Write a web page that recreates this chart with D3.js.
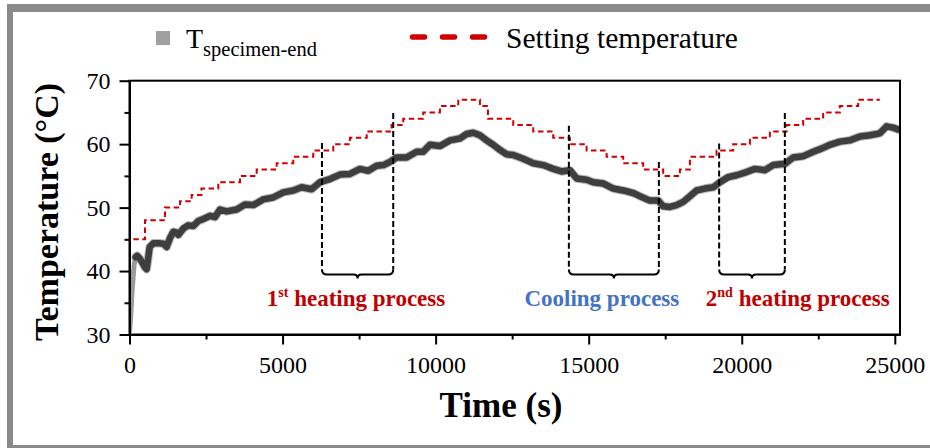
<!DOCTYPE html>
<html>
<head>
<meta charset="utf-8">
<script src="https://cdn.jsdelivr.net/npm/d3@7"></script>
<style>
  html, body { margin: 0; padding: 0; background: #fff; }
  svg { display: block; }
  svg text { font-family: "Liberation Serif", "Times New Roman", "DejaVu Serif", serif; }
</style>
</head>
<body>
<svg id="chart" width="930" height="448"></svg>
<script>
// Specimen-end temperature record (s, °C)
const specimenTime = [0, 40, 80, 110, 150, 200, 250, 330, 420, 500, 560, 610, 660, 780, 950, 1105, 1214, 1323, 1432, 1520, 1595, 1758, 1921, 2085, 2248, 2411, 2629, 2792, 2956, 3174, 3500, 3772, 4044, 4371, 4697, 5024, 5351, 5623, 5950, 6222, 6548, 6875, 7202, 7528, 7800, 8073, 8300, 8508, 8725, 9052, 9379, 9596, 9814, 10141, 10468, 10794, 11012, 11229, 11447, 11665, 11882, 12100, 12318, 12536, 12862, 13189, 13516, 13842, 14114, 14387, 14605, 14932, 15150, 15476, 15803, 16129, 16456, 16673, 17000, 17272, 17435, 17653, 17870, 18088, 18306, 18524, 18796, 19068, 19286, 19558, 19831, 20157, 20429, 20756, 21028, 21409, 21681, 22008, 22334, 22606, 22879, 23205, 23532, 23858, 24185, 24511, 24729, 24946, 25110, 25250];
const specimenTemp = [30.3, 33.0, 36.5, 38.5, 41.0, 42.2, 42.4, 42.0, 41.3, 40.6, 40.3, 42.0, 43.8, 44.4, 44.4, 44.3, 43.8, 45.2, 46.2, 46.1, 45.7, 46.7, 47.2, 47.1, 47.9, 48.2, 48.7, 48.5, 49.7, 49.4, 49.7, 50.5, 50.4, 51.3, 51.6, 52.4, 52.7, 53.2, 52.9, 54.0, 54.5, 55.2, 55.3, 56.1, 55.8, 56.6, 56.7, 57.2, 57.9, 57.9, 58.8, 58.8, 59.9, 59.7, 60.6, 60.9, 61.6, 61.8, 61.4, 60.6, 59.9, 59.1, 58.4, 58.3, 57.7, 57.0, 56.7, 56.1, 55.7, 55.9, 54.6, 54.4, 54.0, 53.8, 53.0, 52.7, 52.3, 51.8, 51.1, 51.1, 50.2, 50.1, 50.4, 50.9, 51.8, 52.7, 53.0, 53.2, 54.0, 54.8, 55.1, 55.6, 56.1, 55.9, 56.7, 56.9, 57.9, 58.1, 58.8, 59.3, 59.9, 60.4, 60.6, 61.2, 61.4, 61.7, 62.8, 62.6, 62.3, 62.2];

// Setting temperature programme: each value holds from its start time
const settingTime = [0, 0, 506, 1160, 1650, 2030, 2350, 2900, 3610, 4154, 4807, 5350, 6003, 6656, 7200, 7750, 8560, 8942, 9596, 10141, 10740, 11447, 11710, 12536, 13189, 13842, 14387, 14932, 15585, 16128, 16780, 17434, 17980, 18306, 19178, 19720, 20266, 20919, 21464, 22006, 22660, 23205, 23802, 24511];
const settingTemp = [30, 45, 48, 50, 51, 52, 53, 54, 55, 56, 57, 58, 59, 60, 61, 62, 63, 64, 65, 66, 67, 66, 64, 63, 62, 61, 60, 59, 58, 57, 56, 55, 56, 58, 59, 60, 61, 62, 63, 64, 65, 66, 67, 67];

// Axis ticks
const xTicks = [0, 5000, 10000, 15000, 20000, 25000];
const xMinorTicks = [2500, 7500, 12500, 17500, 22500];
const yTicks = [30, 40, 50, 60, 70];
const yMinorTicks = [35, 45, 55, 65];

// Process brackets: start/end time and the top of each boundary line
const processStart = [6287, 14353, 19262];
const processEnd = [8615, 17293, 21408];
const processStartTop = [60.2, 62.9, 60.1];
const processEndTop = [64.9, 57.2, 64.9];
const bracketLevel = 39.45;
const processOrdinal = ["1", "", "2"];
const processSup = ["st", "", "nd"];
const processText = [" heating process", "Cooling process", " heating process"];
const processLabelCenter = [7400, 15430, 21830];
const processLabelLevel = 34.5;
const processColor = ["#c00000", "#4472c4", "#c00000"];

const svg = d3.select("#chart");

// Outer frame
svg.append("rect").attr("x", 7).attr("y", 4).attr("width", 923).attr("height", 8).attr("fill", "#8a8a8a");
svg.append("rect").attr("x", 7).attr("y", 4).attr("width", 6).attr("height", 444).attr("fill", "#8a8a8a");
svg.append("rect").attr("x", 7).attr("y", 445).attr("width", 923).attr("height", 3).attr("fill", "#8a8a8a");

const x = d3.scaleLinear().domain([0, 25170]).range([129.5, 900]);
const y = d3.scaleLinear().domain([30, 70]).range([334.5, 80.7]);

svg.append("clipPath").attr("id", "plotClip")
  .append("rect")
  .attr("x", x(0)).attr("y", y(70))
  .attr("width", x(25170) - x(0)).attr("height", y(30) - y(70));

const plot = svg.append("g").attr("clip-path", "url(#plotClip)");

// Specimen temperature trace
const specimen = specimenTime.map((t, i) => [t, specimenTemp[i]]);
const line = d3.line().x(d => x(d[0])).y(d => y(d[1]));
const early = specimen.filter(d => d[0] <= 250);
const rest = specimen.filter(d => d[0] >= 200);
plot.append("path").datum(early).attr("d", line)
  .attr("fill", "none").attr("stroke", "#9a9a9a").attr("stroke-width", 5)
  .attr("stroke-linejoin", "round");
plot.append("path").datum(rest).attr("d", line)
  .attr("fill", "none").attr("stroke", "#7a7a7a").attr("stroke-width", 8.5)
  .attr("stroke-linejoin", "round").attr("stroke-linecap", "round").attr("opacity", 0.55);
plot.append("path").datum(rest).attr("d", line)
  .attr("fill", "none").attr("stroke", "#3e3e3e").attr("stroke-width", 6.5)
  .attr("stroke-linejoin", "round").attr("stroke-linecap", "round");

// Setting temperature step line
const setting = settingTime.map((t, i) => [t, settingTemp[i]]);
plot.append("path").datum(setting)
  .attr("d", d3.line().curve(d3.curveStepAfter).x(d => x(d[0])).y(d => y(d[1])))
  .attr("fill", "none").attr("stroke", "#d00000").attr("stroke-width", 2)
  .attr("stroke-dasharray", "5.5,3.5");

// Process boundaries and brackets
const ann = svg.append("g");
processStart.forEach((t0, i) => {
  const x0 = x(t0), x1 = x(processEnd[i]);
  const yb = y(bracketLevel);
  const cx = (x0 + x1) / 2;
  ann.append("line").attr("x1", x0).attr("x2", x0)
    .attr("y1", y(processStartTop[i])).attr("y2", yb - 5)
    .attr("stroke", "#000").attr("stroke-width", 2).attr("stroke-dasharray", "6,3");
  ann.append("line").attr("x1", x1).attr("x2", x1)
    .attr("y1", y(processEndTop[i])).attr("y2", yb - 5)
    .attr("stroke", "#000").attr("stroke-width", 2).attr("stroke-dasharray", "6,3");
  const p = d3.path();
  p.moveTo(x0, yb - 5);
  p.quadraticCurveTo(x0, yb, x0 + 5, yb);
  p.lineTo(cx - 4, yb);
  p.quadraticCurveTo(cx, yb, cx, yb + 4);
  p.quadraticCurveTo(cx, yb, cx + 4, yb);
  p.lineTo(x1 - 5, yb);
  p.quadraticCurveTo(x1, yb, x1, yb - 5);
  ann.append("path").attr("d", p.toString())
    .attr("fill", "none").attr("stroke", "#000").attr("stroke-width", 2);

  const label = ann.append("text")
    .attr("x", x(processLabelCenter[i])).attr("y", y(processLabelLevel))
    .attr("text-anchor", "middle")
    .attr("font-weight", "bold")
    .attr("font-size", 23).attr("fill", processColor[i]);
  if (processOrdinal[i]) {
    label.append("tspan").text(processOrdinal[i]);
    label.append("tspan").attr("font-size", 14).attr("dy", -9).text(processSup[i]);
    label.append("tspan").attr("dy", 9).text(processText[i]);
  } else {
    label.text(processText[i]);
  }
});

// Plot box (top and right edges)
svg.append("rect")
  .attr("x", x(0)).attr("y", y(70))
  .attr("width", x(25170) - x(0)).attr("height", y(30) - y(70))
  .attr("fill", "none").attr("stroke", "#000").attr("stroke-width", 2);

// Axes
svg.append("g").attr("transform", `translate(0,${y(30)})`)
  .call(d3.axisBottom(x).tickValues(xTicks).tickSize(10).tickSizeOuter(0).tickPadding(11).tickFormat(d3.format("d")));
svg.append("g").attr("transform", `translate(0,${y(30)})`)
  .call(d3.axisBottom(x).tickValues(xMinorTicks).tickSize(5).tickSizeOuter(0).tickFormat(""));
svg.append("g").attr("transform", `translate(${x(0)},0)`)
  .call(d3.axisLeft(y).tickValues(yTicks).tickSize(10).tickSizeOuter(0).tickPadding(9));
svg.append("g").attr("transform", `translate(${x(0)},0)`)
  .call(d3.axisLeft(y).tickValues(yMinorTicks).tickSize(5).tickSizeOuter(0).tickFormat(""));

svg.selectAll(".domain").attr("stroke", "#000").attr("stroke-width", 2);
svg.selectAll(".tick line").attr("stroke", "#000").attr("stroke-width", 2);
svg.selectAll(".tick text").style("font-size", "24px").attr("fill", "#000");

// Axis titles
svg.append("text")
  .attr("x", 501).attr("y", 417).attr("text-anchor", "middle")
  .attr("font-weight", "bold").attr("font-size", 35)
  .text("Time (s)");
svg.append("text")
  .attr("transform", "translate(58,212) rotate(-90)").attr("text-anchor", "middle")
  .attr("font-weight", "bold").attr("font-size", 34)
  .text("Temperature (°C)");

// Legend
svg.append("rect").attr("x", 156).attr("y", 31).attr("width", 14).attr("height", 14).attr("fill", "#a0a0a0");
const lt = svg.append("text").attr("x", 186).attr("y", 48)
  .attr("font-size", 28).attr("fill", "#000");
lt.append("tspan").text("T");
lt.append("tspan").attr("font-size", 20.5).attr("dy", 8).text("specimen-end");

svg.append("line").attr("x1", 412.5).attr("x2", 488).attr("y1", 37).attr("y2", 37)
  .attr("stroke", "#d00000").attr("stroke-width", 5.5).attr("stroke-linecap", "round")
  .attr("stroke-dasharray", "12,18");
svg.append("text").attr("x", 506).attr("y", 48)
  .attr("font-size", 29.5).attr("fill", "#000")
  .text("Setting temperature");
</script>
</body>
</html>
